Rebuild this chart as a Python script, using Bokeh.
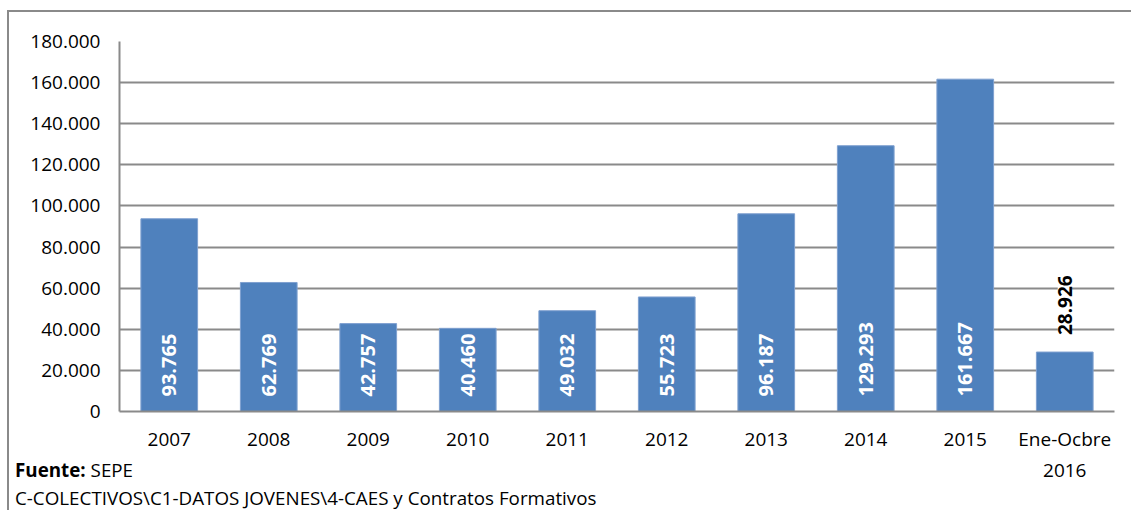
from math import pi
from bokeh.plotting import figure
from bokeh.layouts import column
from bokeh.models import ColumnDataSource, LabelSet, FixedTicker, Div
from bokeh.core.properties import value
from bokeh.embed import file_html
from bokeh.resources import INLINE

categories = ["2007", "2008", "2009", "2010", "2011", "2012", "2013", "2014", "2015", "Ene-Ocbre\n2016"]
values = [93765, 62769, 42757, 40460, 49032, 55723, 96187, 129293, 161667, 28926]
labels = ["93.765", "62.769", "42.757", "40.460", "49.032", "55.723", "96.187", "129.293", "161.667", "28.926"]
y_ticks = [0, 20000, 40000, 60000, 80000, 100000, 120000, 140000, 160000, 180000]
y_tick_labels = ["0", "20.000", "40.000", "60.000", "80.000", "100.000", "120.000", "140.000", "160.000", "180.000"]
source_label = "Fuente:"
source_name = "SEPE"
path_note = "C-COLECTIVOS\\C1-DATOS JOVENES\\4-CAES y Contratos Formativos"

FONT = "Open Sans"
GRID = "#8a8a8a"

p = figure(x_range=categories, y_range=(0, 180000), width=1119, height=494,
           output_backend="svg", toolbar_location=None,
           min_border_left=110, min_border_right=14, min_border_top=29, min_border_bottom=95)
p.outline_line_color = None
p.background_fill_color = "white"
p.border_fill_color = "white"

p.xgrid.grid_line_color = None
p.ygrid.grid_line_color = GRID
p.ygrid.grid_line_width = 2
p.yaxis.ticker = FixedTicker(ticks=y_ticks)
p.yaxis.major_label_overrides = {t: l for t, l in zip(y_ticks, y_tick_labels)}
for ax in (p.xaxis[0], p.yaxis[0]):
    ax.axis_line_color = GRID
    ax.axis_line_width = 2
    ax.major_tick_line_color = None
    ax.minor_tick_line_color = None
    ax.major_tick_in = 0
    ax.major_tick_out = 0
    ax.major_label_text_font = FONT
    ax.major_label_text_font_size = "19px"
    ax.major_label_text_color = "black"
p.yaxis.major_label_standoff = 19
p.xaxis.major_label_standoff = 14

src = ColumnDataSource(dict(x=categories, top=values, label=labels))
p.vbar(x="x", top="top", width=0.57, source=src, fill_color="#4F81BD", line_color="#7FA0D0", line_width=1)

src_in = ColumnDataSource(dict(x=categories[:-1], y=[0] * (len(values) - 1), label=labels[:-1]))
p.add_layout(LabelSet(x="x", y="y", text="label", source=src_in, angle=pi / 2,
                      text_align="left", text_baseline="middle", y_offset=15,
                      text_color="white", text_font=value(FONT), text_font_style="bold",
                      text_font_size="20px"))

src_out = ColumnDataSource(dict(x=categories[-1:], y=values[-1:], label=labels[-1:]))
p.add_layout(LabelSet(x="x", y="y", text="label", source=src_out, angle=pi / 2,
                      text_align="left", text_baseline="middle", y_offset=17,
                      text_color="black", text_font=value(FONT), text_font_style="bold",
                      text_font_size="19px", background_fill_color="white"))

footer_html = (
    "<div style=\"font-family:'Open Sans';font-size:18.8px;line-height:28px;color:black;"
    "padding-left:1px;white-space:nowrap\">"
    f"<b>{source_label}</b> {source_name}<br>{path_note}</div>"
)
footer = Div(text=footer_html, width=1119, height=50, styles={"margin-top": "-50px"})

layout = column(p, footer, styles={"border": "2px solid #8a8a8a", "margin-left": "7px",
                                   "margin-top": "10px", "background": "white"})

open("out.html", "w").write(file_html(layout, INLINE))
